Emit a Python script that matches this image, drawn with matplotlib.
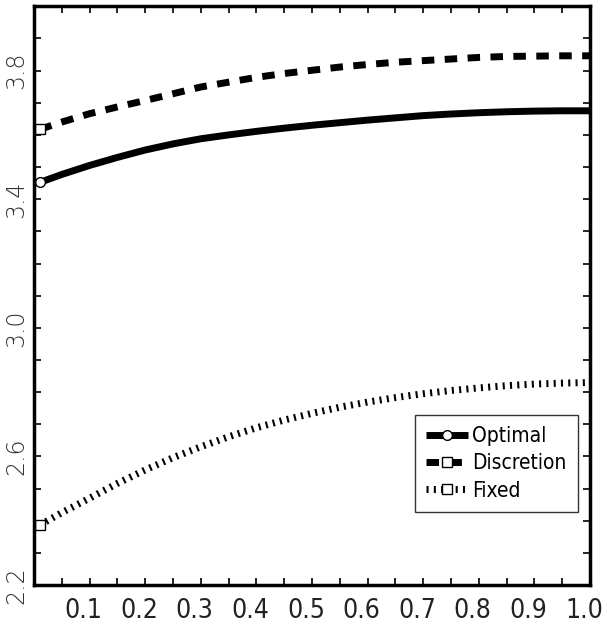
import matplotlib
matplotlib.use('Agg')
import matplotlib.pyplot as plt
import matplotlib.transforms as mtransforms
from matplotlib.ticker import MultipleLocator

plt.rcParams['font.family'] = ['DejaVu Sans']
plt.rcParams['font.stretch'] = 'condensed'

# data
x = [0.01, 0.05, 0.10, 0.15, 0.20, 0.25, 0.30, 0.35, 0.40, 0.45, 0.50,
     0.55, 0.60, 0.65, 0.70, 0.75, 0.80, 0.85, 0.90, 0.95, 1.00]
optimal = [3.452, 3.477, 3.505, 3.530, 3.553, 3.572, 3.588, 3.600, 3.611, 3.621, 3.630,
           3.638, 3.646, 3.653, 3.660, 3.665, 3.669, 3.672, 3.674, 3.675, 3.675]
discretion = [3.617, 3.640, 3.666, 3.687, 3.707, 3.728, 3.749, 3.764, 3.779, 3.791, 3.801,
              3.811, 3.819, 3.826, 3.831, 3.836, 3.841, 3.844, 3.845, 3.846, 3.846]
fixed = [2.386, 2.425, 2.470, 2.516, 2.558, 2.596, 2.630, 2.661, 2.689, 2.713, 2.734,
         2.753, 2.769, 2.783, 2.795, 2.805, 2.813, 2.820, 2.825, 2.828, 2.830]

xticks = [0.1, 0.2, 0.3, 0.4, 0.5, 0.6, 0.7, 0.8, 0.9, 1.0]
yticks = [2.2, 2.6, 3.0, 3.4, 3.8]

fig = plt.figure(figsize=(6.07, 6.3), dpi=100)
ax = fig.add_axes([0.056, 0.0714, 0.916, 0.9186])

ax.plot(x, optimal, color='black', lw=5, solid_capstyle='butt', solid_joinstyle='round',
        marker='o', markevery=[0], ms=7, mfc='white', mec='black', mew=1,
        label='Optimal')
ax.plot(x, discretion, color='black', lw=5, dash_capstyle='butt',
        linestyle=(0, (1.8, 1.5)),
        marker='s', markevery=[0], ms=7, mfc='white', mec='black', mew=1,
        label='Discretion')
ax.plot(x, fixed, color='black', lw=5, dash_capstyle='butt',
        linestyle=(0, (0.3, 0.75)),
        marker='s', markevery=[0], ms=7, mfc='white', mec='black', mew=1,
        label='Fixed')

ax.set_xlim(0, 1.0)
ax.set_ylim(2.2, 4.0)
ax.set_xticks(xticks)
ax.set_xticklabels([f'{t:.1f}' for t in xticks], fontsize=19, color='#222222')
ax.xaxis.set_minor_locator(MultipleLocator(0.05))
ax.set_yticks(yticks)
ax.set_yticklabels([f'{t:.1f}' for t in yticks], rotation=90, va='center',
                   color='#333333', fontsize=17, fontstretch='normal',
                   fontweight='light')
ax.yaxis.set_minor_locator(MultipleLocator(0.1))

ax.tick_params(axis='both', which='both', direction='in', top=True, right=True,
               width=1.2, length=5)
ax.tick_params(axis='x', pad=9)
ax.tick_params(axis='y', pad=4)

# x labels sit a little left of their ticks in the original
shift = mtransforms.ScaledTranslation(-6 / 100, 0, fig.dpi_scale_trans)
for lab in ax.get_xticklabels():
    lab.set_transform(lab.get_transform() + shift)

for s in ax.spines.values():
    s.set_linewidth(2.5)

leg = ax.legend(loc='lower left', bbox_to_anchor=(0.685, 0.126), fontsize=15,
                frameon=True, fancybox=False, edgecolor='black',
                handlelength=2.0, handletextpad=0.2, borderpad=0.55,
                labelspacing=0.35, borderaxespad=0)
leg.get_frame().set_linewidth(1)

fig.savefig('out.png', dpi=100)
